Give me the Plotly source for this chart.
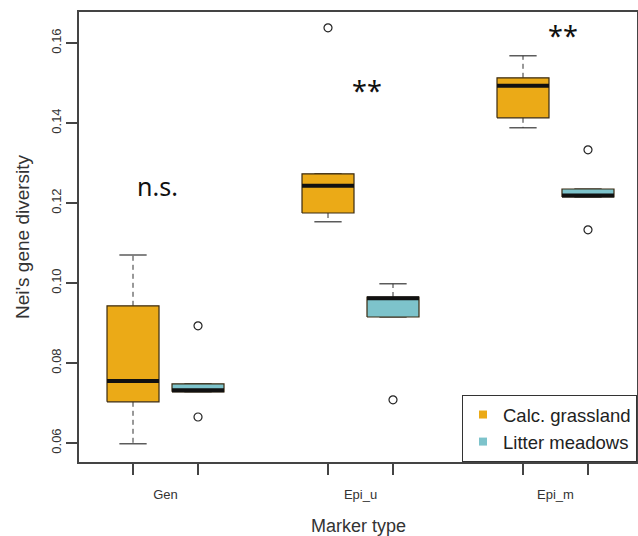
import plotly.graph_objects as go

# ---- data ----
groups = ["Gen", "Epi_u", "Epi_m"]
group_centers = [1.5, 4.5, 7.5]
calc_pos = [1, 4, 7]
litt_pos = [2, 5, 8]

calc_lower = [0.0598, 0.1153, 0.1388]
calc_q1 = [0.0703, 0.1175, 0.1413]
calc_med = [0.0755, 0.1243, 0.1493]
calc_q3 = [0.0943, 0.1273, 0.1513]
calc_upper = [0.1070, 0.1273, 0.1568]
calc_out = [[], [0.1638], []]

litt_lower = [0.0728, 0.0915, 0.1215]
litt_q1 = [0.0728, 0.0915, 0.1215]
litt_med = [0.0732, 0.0962, 0.1219]
litt_q3 = [0.0748, 0.0965, 0.1235]
litt_upper = [0.0748, 0.0998, 0.1235]
litt_out = [[0.0893, 0.0665], [0.0708], [0.1333, 0.1133]]

series = ["Calc. grassland", "Litter meadows"]
colors = ["#EBAA17", "#7DC3CB"]

yticks = [0.06, 0.08, 0.10, 0.12, 0.14, 0.16]
ytick_labels = ["0.06", "0.08", "0.10", "0.12", "0.14", "0.16"]

x_title = "Marker type"
y_title = "Nei's gene diversity"

sig_labels = ["n.s.", "**", "**"]
sig_x = [1.38, 4.6, 7.62]
sig_y = [0.1243, 0.1482, 0.1620]

HALF = 0.4
CAP = 0.21
EDGE = "#3a2a10"

fig = go.Figure()


def add_box(p, lo, q1, med, q3, up, outs, color):
    # whiskers (dashed)
    for a, b in ((q3, up), (q1, lo)):
        if b != a:
            fig.add_trace(go.Scatter(x=[p, p], y=[a, b], mode="lines",
                                     line=dict(color="#333333", width=1, dash="5px,4px"),
                                     showlegend=False, hoverinfo="skip"))
    # staples
    for v in (up, lo):
        fig.add_trace(go.Scatter(x=[p - CAP, p + CAP], y=[v, v], mode="lines",
                                 line=dict(color="#333333", width=1.2),
                                 showlegend=False, hoverinfo="skip"))
    # box
    fig.add_trace(go.Scatter(x=[p - HALF, p + HALF, p + HALF, p - HALF, p - HALF],
                             y=[q1, q1, q3, q3, q1], mode="lines", fill="toself",
                             fillcolor=color, line=dict(color=EDGE, width=1.2),
                             showlegend=False, hoverinfo="skip"))
    # median
    fig.add_trace(go.Scatter(x=[p - HALF, p + HALF], y=[med, med], mode="lines",
                             line=dict(color="#111111", width=4),
                             showlegend=False, hoverinfo="skip"))
    # outliers
    if outs:
        fig.add_trace(go.Scatter(x=[p] * len(outs), y=outs, mode="markers",
                                 marker=dict(symbol="circle-open", size=8, color="#222222",
                                             line=dict(width=1.2)),
                                 showlegend=False, hoverinfo="skip"))


for i in range(3):
    add_box(calc_pos[i], calc_lower[i], calc_q1[i], calc_med[i], calc_q3[i],
            calc_upper[i], calc_out[i], colors[0])
    add_box(litt_pos[i], litt_lower[i], litt_q1[i], litt_med[i], litt_q3[i],
            litt_upper[i], litt_out[i], colors[1])

# legend entries
for name, c in zip(series, colors):
    fig.add_trace(go.Scatter(x=[None], y=[None], mode="markers", name=name,
                             marker=dict(symbol="square", size=8, color=c)))

for t, x, y in zip(sig_labels, sig_x, sig_y):
    fig.add_annotation(x=x, y=y, xref="x", yref="y", text=t, showarrow=False,
                       font=dict(family="Noto Sans", size=25 if t == "n.s." else 27,
                                 color="#111111"))

# axis titles
fig.add_annotation(x=0.5, y=-0.142, xref="paper", yref="paper", text=x_title,
                   showarrow=False, xanchor="center", yanchor="middle",
                   font=dict(size=18, color="#333333", family="Liberation Sans"))
fig.add_annotation(x=-0.102, y=0.5, xref="paper", yref="paper", text=y_title,
                   showarrow=False, xanchor="center", yanchor="middle", textangle=-90,
                   font=dict(size=19, color="#333333", family="Liberation Sans"))

fig.update_layout(
    width=638, height=536,
    margin=dict(l=79, r=1, t=12, b=74, autoexpand=False),
    plot_bgcolor="white", paper_bgcolor="white",
    font=dict(family="Liberation Sans", color="#222222"),
    showlegend=True,
    legend=dict(x=1, xanchor="right", y=0, yanchor="bottom",
                bordercolor="#333333", borderwidth=1, bgcolor="white",
                font=dict(size=18.5, family="Liberation Sans", color="#222222"),
                tracegroupgap=0, itemwidth=30),
    xaxis=dict(range=[0.169, 8.754], showgrid=False, zeroline=False, automargin=False,
               showline=True, mirror=True, linecolor="#444444", linewidth=1.5,
               tickvals=group_centers, ticktext=groups, ticks="",
               ticklabelstandoff=20,
               tickfont=dict(size=13, color="#333333"),
               minor=dict(tickvals=calc_pos + litt_pos, ticks="outside", ticklen=11,
                          tickcolor="#444444", tickwidth=1.5)),
    yaxis=dict(range=[0.05525, 0.16775], showgrid=False, zeroline=False, automargin=False,
               showline=True, mirror=True, linecolor="#444444", linewidth=1.5,
               tickvals=yticks, ticktext=ytick_labels, ticks="outside", ticklen=11,
               tickcolor="#444444", tickwidth=1.5, tickangle=-90,
               tickfont=dict(size=13, color="#333333")),
)

fig.write_html(
    "out.html",
    config={"displayModeBar": False},
    post_script="document.body.style.margin='0px';document.body.style.overflow='hidden';",
)
